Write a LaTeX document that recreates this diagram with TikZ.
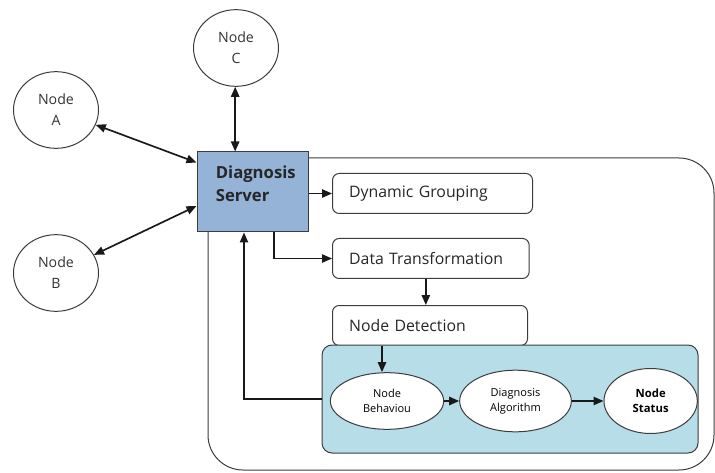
\documentclass[tikz,border=0pt]{standalone}
\usepackage{fontspec}
\setmainfont{Open Sans}
\usetikzlibrary{arrows.meta, shapes.geometric, positioning}
\definecolor{serverblue}{RGB}{149,179,215}
\definecolor{panelblue}{RGB}{183,221,232}
\definecolor{linegray}{RGB}{60,60,60}

\begin{document}
\begin{tikzpicture}[x=0.6pt, y=-0.6pt,
    peer/.style={draw=linegray, ellipse, line width=0.6pt, minimum width=51pt, minimum height=46pt,
      inner sep=0pt, align=center, font=\fontsize{8.5}{12.6}\selectfont, text=black!80},
    stage/.style={draw=linegray, rounded corners=4pt, line width=0.6pt, anchor=west, minimum height=24pt,
      align=left, inner xsep=10pt, text width=98pt, font=\fontsize{9.5}{11}\selectfont, text=black!85},
    oval/.style={draw=linegray, ellipse, fill=white, line width=0.6pt, inner sep=0pt, align=center,
      font=\fontsize{6.6}{9}\selectfont},
    link/.style={line width=1pt, draw=black!90, -{Triangle[length=6pt,width=5pt]}},
    twoway/.style={link, {Triangle[length=6pt,width=5pt]}-{Triangle[length=6pt,width=5pt]}}
  ]
  \useasboundingbox (0,0) rectangle (715,473);

  % outer frame, partly under the server box
  \draw[linegray, line width=0.6pt, rounded corners=21pt] (208,158) rectangle (714,470);

  \node[peer] (nodeC) at (236,48) {Node\\C};
  \node[peer] (nodeA) at (56,110) {Node\\A};
  \node[peer] (nodeB) at (56,273) {Node\\B};

  \node[draw=linegray, fill=serverblue, line width=0.6pt, minimum width=66.6pt, minimum height=48pt,
    inner sep=0pt] (server) at (252.5,192) {};
  \node[anchor=west, align=left, inner sep=0pt, font=\fontsize{10}{14}\selectfont\bfseries, text=black!85]
    (servertext) at ([xshift=11.4pt, yshift=5pt]server.west) {Diagnosis\\Server};

  \node[stage, text width=100pt] (grouping) at (332,193.5) {Dynamic Grouping};
  \node[stage] (transform) at (332,258.5) {Data Transformation};
  \node[stage, text width=97pt] (detect) at (332,325.5) {Node Detection};

  \node[draw=linegray, fill=panelblue, line width=0.6pt, rounded corners=6pt, minimum width=225.6pt,
    minimum height=64.8pt, inner sep=0pt] (panel) at (510,399) {};
  \node[oval, minimum width=68pt, minimum height=34pt] (behav) at (387,401) {Node\\Behaviou};
  \node[oval, minimum width=67pt, minimum height=37pt, right=9pt of behav] (algo) {Diagnosis\\Algorithm};
  \node[oval, minimum width=56pt, minimum height=39pt, right=19pt of algo, font=\fontsize{6.8}{9}\selectfont\bfseries]
    (status) {Node\\Status};

  \draw[twoway] (nodeA) -- ([yshift=-6.6pt]server.north west);
  \draw[twoway] (nodeB) -- ([yshift=-8.4pt]server.west);
  \draw[twoway] ([xshift=-0.5pt]nodeC.south) -- ([xshift=-0.5pt]nodeC.south |- server.north);
  \draw[link] (server.east |- grouping.west) -- (grouping.west);
  \draw[link] ([xshift=12.9pt]server.south) |- (transform.west);
  \draw[link] ([xshift=-3pt]transform.south) -- ([xshift=-3pt]transform.south |- detect.north);
  \draw[link] ([xshift=-3pt]behav.north |- detect.south) -- ([xshift=-3pt]behav.north);
  \draw[link] (behav) -- (algo);
  \draw[link] (algo) -- (status);
  \draw[link, line width=0.8pt] (panel.west) -| ([xshift=-5.1pt]server.south);
\end{tikzpicture}
\end{document}
